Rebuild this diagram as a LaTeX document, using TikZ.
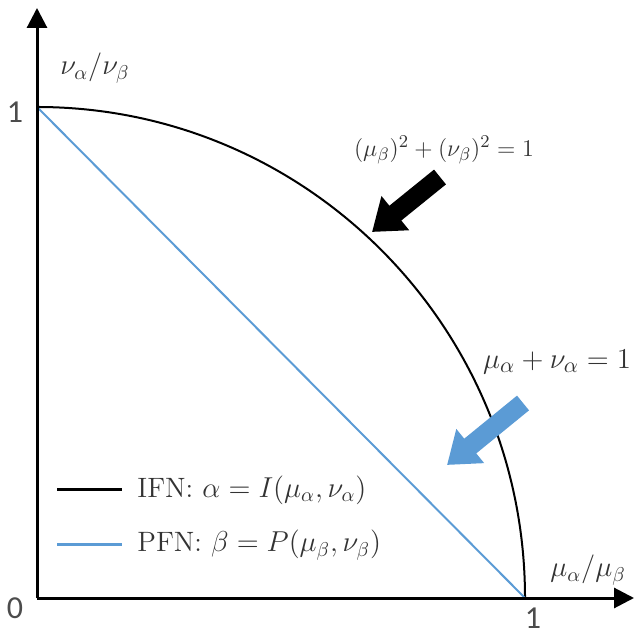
\documentclass[tikz,border=0pt]{standalone}
\usepackage{amsmath,amssymb}
\usepackage{fontspec}
\newfontfamily\numfont{Carlito}
\usepackage{tikz}
\usetikzlibrary{arrows.meta}

\definecolor{pfnblue}{RGB}{91,155,213}
\tikzset{
 axis/.style={line width=1.5pt,-{Triangle[length=10pt,width=10pt]}},
 bigarrow/.style={line width=9.5pt,-{Triangle[length=15pt,width=21pt]}},
 numlbl/.style={text=black!70,font=\numfont\fontsize{16}{18}\selectfont,inner sep=0pt},
 mathlbl/.style={text=black!80,inner sep=0pt}
}

\begin{document}
\begin{tikzpicture}[x=.5pt,y=.5pt]
 \useasboundingbox (0,0) rectangle (641,636);
 \coordinate (o) at (37,38);
 \coordinate (xend) at (634,38);
 \coordinate (yend) at (37,628);
 \coordinate (xone) at (525,38);
 \coordinate (yone) at (37,529);
 % curves
 \draw[line width=1pt] (yone) arc[start angle=90,end angle=0,x radius=488,y radius=491];
 \draw[pfnblue,line width=1pt] (yone) -- (xone);
 % axes
 \draw[axis] (o) -- (xend);
 \draw[axis] (o) -- (yend);
 \node[numlbl] (lblzero) at (15,28) {0};
 \node[numlbl] (lblyone) at (15,524) {1};
 \node[numlbl] (lblxone) at (533,18) {1};
 \node[mathlbl,font=\fontsize{14}{16}\selectfont] (lbly) at (95,568) {$\nu_\alpha/\nu_\beta$};
 \node[mathlbl,font=\fontsize{14}{16}\selectfont] (lblx) at (588,66) {$\mu_\alpha/\mu_\beta$};
 % equations with arrows
 \node[mathlbl,font=\fontsize{12.5}{15}\selectfont] (eqpfn) at (444,486) {$(\mu_\beta)^2+(\nu_\beta)^2=1$};
 \node[mathlbl,font=\fontsize{15.5}{18}\selectfont] (eqifn) at (557,274) {$\mu_\alpha+\nu_\alpha=1$};
 \coordinate (ktail) at (440,459);
 \coordinate (ktip) at (372,404);
 \coordinate (btail) at (523,233);
 \coordinate (btip) at (447,171);
 \draw[bigarrow,black] (ktail) -- (ktip);
 \draw[bigarrow,pfnblue] (btail) -- (btip);
 % legend
 \foreach \y/\col/\txt/\id in
  {146/black/{IFN: $\alpha=I(\mu_\alpha,\nu_\alpha)$}/ifn,91/pfnblue/{PFN: $\beta=P(\mu_\beta,\nu_\beta)$}/pfn}{
  \draw[\col,line width=1.5pt] (57,\y) coordinate (\id a) -- (122,\y) coordinate (\id b);
  \node[anchor=west,text=black!80,inner sep=0pt,font=\fontsize{14}{16}\selectfont] (leg\id) at (137,\y) {\txt};}
\end{tikzpicture}
\end{document}
